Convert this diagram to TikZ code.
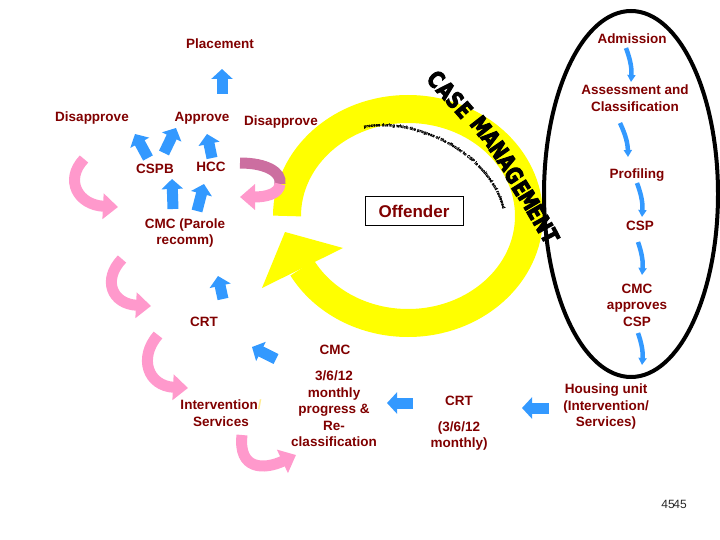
\documentclass[tikz,border=0pt]{standalone}
\usepackage{fontspec}
\setmainfont{Liberation Sans}
\newfontfamily\casefont{DejaVu Sans}[FakeBold=4,FakeStretch=0.78]
\newfontfamily\arcfont{Liberation Sans}[FakeBold=2]
\usetikzlibrary{arrows.meta,decorations.text}
\definecolor{TxtRed}{RGB}{128,0,0}
\definecolor{ArrBlue}{RGB}{51,153,255}
\definecolor{ArrPink}{RGB}{255,153,204}
\definecolor{ArrMauve}{RGB}{204,110,160}
\definecolor{CycYellow}{RGB}{255,255,0}
\definecolor{SlashYellow}{RGB}{255,235,140}

\begin{document}
\begin{tikzpicture}[x=1pt,y=-1pt,
lbl/.style={text=TxtRed,font=\fontsize{13.5}{16.5}\selectfont\bfseries,align=center,inner sep=0pt},
blk/.style={draw=ArrBlue,line width=11pt,-{Triangle[width=21pt,length=10pt]}},
vwav/.style={draw=ArrBlue,line width=4.5pt,-{Triangle[width=8pt,length=7pt]}},
pnk/.style={draw=ArrPink,line width=11pt,-{Triangle[width=25pt,length=15pt]}},
cmltr/.style={font=\casefont\fontsize{23}{23}\selectfont\bfseries,inner sep=0pt}
]
\useasboundingbox (0,0) rectangle (720,540);

% case management cycle
\draw[CycYellow,line width=28pt] (287,216) arc[start angle=180,end angle=511,x radius=121,y radius=107];
\fill[CycYellow] (285,232) -- (343,248) -- (262,288) -- cycle;
\path[decorate,decoration={text along path,text={|\arcfont\fontsize{4.3}{4.3}\selectfont\bfseries|process during which the progress of the offender to CSP is monitored and reviewed}}]
  (364,128) .. controls (420,117) and (498,160) .. (504,218);
\node[draw,line width=0.8pt,minimum width=98pt,minimum height=29pt,text=TxtRed,font=\fontsize{17}{17}\selectfont\bfseries] (off) at (414,211) {Offender};

% admission column
\draw[line width=4pt] (631,194) ellipse[x radius=87,y radius=183];
\foreach \ch/\x/\y/\r [count=\i] in {C/436/79/-46,A/446/90/-47,S/455/100/-48,E/464/110/-49,M/481/126/-52,A/491/138/-53,N/499/150/-55,A/507/162/-56,G/514/175/-57,E/521/188/-58,M/529/200/-59,E/536/212/-60,N/543/224/-61,T/550/236/-63}
  \node[cmltr,rotate=\r] (cm\i) at (\x,\y) {\ch};

\node[lbl] (adm) at (632,39) {Admission};
\node[lbl] (assess) at (635,98) {Assessment and\\Classification};
\node[lbl] (prof) at (637,175) {Profiling};
\node[lbl] (csp) at (640,226) {CSP};
\node[lbl] (cmcap) at (637,305) {CMC\\approves\\CSP};
\node[lbl] (house) at (606,407) {Housing unit\\(Intervention/\\Services)};

% review chain
\node[lbl] (crtm) at (459,401) {CRT};
\node[lbl] (crtmon) at (459,436) {(3/6/12\\monthly)};
\node[lbl] (prog) at (334,409) {3/6/12\\monthly\\progress \&\\Re-\\classification};
\node[lbl] (cmcl) at (335,350) {CMC};
\node[lbl] (interv) at (221,413) {Intervention\textcolor{SlashYellow}{/}\\Services};
\node[lbl] (crtl) at (204,322) {CRT};

% parole
\node[lbl] (cmcp) at (185,233) {CMC (Parole\\recomm)};
\node[lbl] (cspb) at (155,169) {CSPB};
\node[lbl] (hcc) at (211,167) {HCC};
\node[lbl] (disl) at (92,118) {Disapprove};
\node[lbl] (appr) at (202,118) {Approve};
\node[lbl] (disr) at (281,122) {Disapprove};
\node[lbl] (plc) at (220,44) {Placement};

\node[font=\fontsize{12}{12}\selectfont,text=black!85,inner sep=0pt] (pgA) at (668,504) {45};
\node[font=\fontsize{12}{12}\selectfont,text=black!85,inner sep=0pt] (pgB) at (680,504) {45};

% arrow ends
\foreach \n/\x/\y in {b1s/222/94,b1t/222/69,b2s/148/158,b2t/135/134,b3s/164/153,b3t/176/128,
  b4s/212/158,b4t/207/134,b5s/173/209,b5t/172/179,b6s/197/211,b6t/204/184,b7s/223/299,b7t/218/276,
  b8s/276/359,b8t/252/347,b9s/413/403,b9t/387/403,b10s/549/408,b10t/522/408,
  r1s/626/48,r1t/631/82,r2s/620/123,r2t/628/157,r3s/637/183,r3t/642/217,r4s/638/242,r4t/642/275,
  r5s/638/333,r5t/642/365,
  k1s/84/159,k1t/118/207,k2s/240/163,k2m/280/184,k2t/240/197,k3s/122/259,k3t/151/306,
  k4s/158/335,k4t/188/388,k5s/242/435,k5t/296/455}
  \coordinate (\n) at (\x,\y);

\foreach \i in {1,...,10}
  \draw[blk] (b\i s) -- (b\i t);
\foreach \i in {1,...,5}
  \draw[vwav] (r\i s) to[bend left=12] (r\i t);

\draw[pnk] (k1s) .. controls (64,180) and (78,205) .. (k1t);
\draw[pnk,draw=ArrMauve,-] (k2s) .. controls (266,163) and (282,172) .. (k2m);
\draw[pnk] (k2m) .. controls (279,194) and (266,197) .. (k2t);
\draw[pnk] (k3s) .. controls (102,280) and (112,304) .. (k3t);
\draw[pnk] (k4s) .. controls (138,358) and (148,386) .. (k4t);
\draw[pnk] (k5s) .. controls (238,470) and (264,470) .. (k5t);
\end{tikzpicture}
\end{document}
